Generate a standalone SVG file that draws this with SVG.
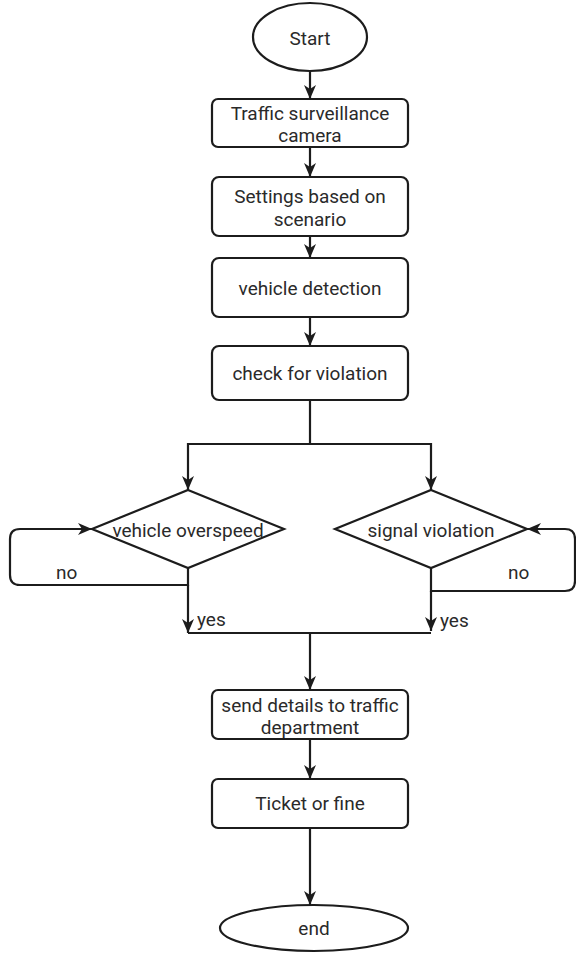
<svg xmlns="http://www.w3.org/2000/svg" width="576" height="955" viewBox="0 0 576 955">
  <style>
    .shape { fill: #ffffff; stroke: #1c1c1c; stroke-width: 2.2; }
    .label { font-family: Roboto, "Liberation Sans", Arial, sans-serif; font-size: 19px; fill: #2a2a2a; text-anchor: middle; dominant-baseline: central; }
    .note { font-family: Roboto, "Liberation Sans", Arial, sans-serif; font-size: 19px; fill: #2a2a2a; dominant-baseline: central; }
    .wire { fill: none; stroke: #1c1c1c; stroke-width: 2.2; }
  </style>
  <defs>
    <marker id="arrow" viewBox="0 0 14 14" refX="14" refY="7" markerWidth="14" markerHeight="14" markerUnits="userSpaceOnUse" orient="auto">
      <path d="M0,1 L14,7 L0,13 L4,7 Z" fill="#1c1c1c"/>
    </marker>
  </defs>
  <rect width="576" height="955" fill="#ffffff"/>

  <!-- connectors -->
  <g id="connectors">
    <path class="wire" d="M310,71 V99" marker-end="url(#arrow)"/>
    <path class="wire" d="M310,147 V177" marker-end="url(#arrow)"/>
    <path class="wire" d="M310,236 V258" marker-end="url(#arrow)"/>
    <path class="wire" d="M310,317 V346" marker-end="url(#arrow)"/>
    <path class="wire" d="M310,400 V444"/>
    <path class="wire" d="M310,444 H188 V490" marker-end="url(#arrow)"/>
    <path class="wire" d="M310,444 H431 V490" marker-end="url(#arrow)"/>
    <!-- left decision: loop back on no, continue on yes -->
    <path class="wire" d="M188,568 V585 H20 Q10,585 10,575 V539 Q10,529 20,529 H92" marker-end="url(#arrow)"/>
    <path class="wire" d="M188,585 V633" marker-end="url(#arrow)"/>
    <!-- right decision: loop back on no, continue on yes -->
    <path class="wire" d="M431,568 V591 H565 Q575,591 575,581 V539 Q575,529 565,529 H527" marker-end="url(#arrow)"/>
    <path class="wire" d="M431,591 V631" marker-end="url(#arrow)"/>
    <path class="wire" d="M188,633 H431"/>
    <path class="wire" d="M310,633 V690" marker-end="url(#arrow)"/>
    <path class="wire" d="M310,739 V779" marker-end="url(#arrow)"/>
    <path class="wire" d="M310,828 V905" marker-end="url(#arrow)"/>
    <text class="note" x="56" y="572">no</text>
    <text class="note" x="197" y="619">yes</text>
    <text class="note" x="508" y="572">no</text>
    <text class="note" x="440" y="620">yes</text>
  </g>

  <g id="start">
    <ellipse class="shape" cx="310" cy="37" rx="57" ry="34"/>
    <text class="label" x="310" y="38">Start</text>
  </g>
  <g id="camera">
    <rect class="shape" x="212" y="99" width="196" height="48" rx="6"/>
    <text class="label" x="310" y="113">Traffic surveillance</text>
    <text class="label" x="310" y="135">camera</text>
  </g>
  <g id="settings">
    <rect class="shape" x="212" y="177" width="196" height="59" rx="7"/>
    <text class="label" x="310" y="196">Settings based on</text>
    <text class="label" x="310" y="219">scenario</text>
  </g>
  <g id="detection">
    <rect class="shape" x="212" y="258" width="196" height="59" rx="7"/>
    <text class="label" x="310" y="288">vehicle detection</text>
  </g>
  <g id="check">
    <rect class="shape" x="212" y="346" width="196" height="54" rx="7"/>
    <text class="label" x="310" y="373">check for violation</text>
  </g>
  <g id="overspeed">
    <polygon class="shape" points="188,490 284,529 188,568 92,529"/>
    <text class="label" x="188" y="530">vehicle overspeed</text>
  </g>
  <g id="signal">
    <polygon class="shape" points="431,490 527,529 431,568 335,529"/>
    <text class="label" x="431" y="530">signal violation</text>
  </g>
  <g id="send">
    <rect class="shape" x="212" y="690" width="196" height="49" rx="6"/>
    <text class="label" x="310" y="705">send details to traffic</text>
    <text class="label" x="310" y="727">department</text>
  </g>
  <g id="ticket">
    <rect class="shape" x="212" y="779" width="196" height="49" rx="6"/>
    <text class="label" x="310" y="803">Ticket or fine</text>
  </g>
  <g id="end">
    <ellipse class="shape" cx="314" cy="928" rx="94" ry="23"/>
    <text class="label" x="314" y="928">end</text>
  </g>
</svg>
